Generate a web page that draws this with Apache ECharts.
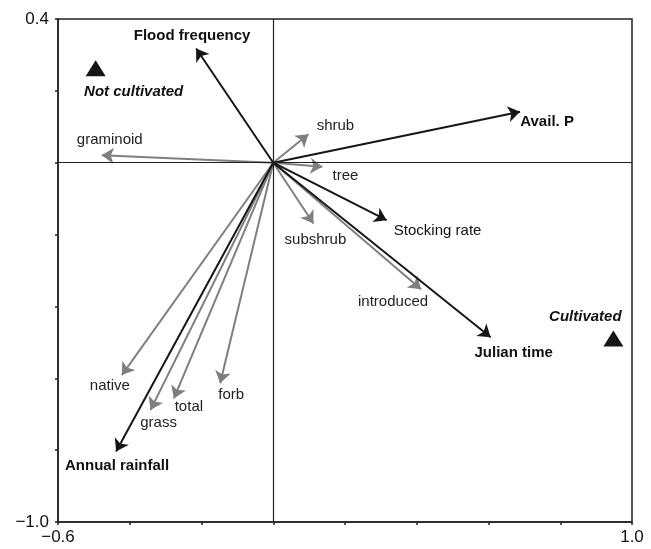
<!DOCTYPE html>
<html>
<head>
<meta charset="utf-8">
<script src="https://cdn.jsdelivr.net/npm/echarts@6/dist/echarts.min.js"></script>
<style>
html,body{margin:0;padding:0;background:#fff;}
#chart{width:651px;height:549px;}
</style>
</head>
<body>
<div id="chart"></div>
<script>
// ---- data ----
const envNames = ['Flood frequency', 'Avail. P', 'Stocking rate', 'Julian time', 'Annual rainfall'];
const envX = [-0.215, 0.688, 0.316, 0.606, -0.438];
const envY = [0.318, 0.142, -0.160, -0.486, -0.804];

const groupNames = ['graminoid', 'shrub', 'tree', 'subshrub', 'introduced', 'native', 'grass', 'total', 'forb'];
const groupX = [-0.478, 0.098, 0.137, 0.112, 0.412, -0.422, -0.342, -0.277, -0.148];
const groupY = [0.021, 0.079, -0.011, -0.169, -0.352, -0.591, -0.688, -0.656, -0.614];

const siteNames = ['Not cultivated', 'Cultivated'];
const siteX = [-0.495, 0.948];
const siteY = [0.263, -0.489];

const xTicks = [-0.6, 1.0];
const yTicks = [-1.0, 0.4];

// ---- label placement / style (pixel offsets from arrow tip / marker) ----
const labelShift = {
  'Flood frequency': [-4, -13], 'Avail. P': [27, 10], 'Stocking rate': [51, 11],
  'Julian time': [23, 16], 'Annual rainfall': [1, 14],
  'graminoid': [8, -15], 'shrub': [27, -8], 'tree': [23, 9], 'subshrub': [2, 16],
  'introduced': [-28, 13], 'native': [-12, 11], 'grass': [8, 13], 'total': [15, 8], 'forb': [11, 12],
  'Not cultivated': [38, 24], 'Cultivated': [-28, -22]
};
const regularLabels = ['Stocking rate'];

const FONT = '"Liberation Sans", Arial, Helvetica, sans-serif';
const fmtTick = v => {
  const s = Math.abs(v).toFixed(1);
  return (v < 0 ? '\u2212' : '') + s;
};

function arrows(names, xs, ys) {
  return names.map((n, i) => ({ name: n, coords: [[0, 0], [xs[i], ys[i]]] }));
}
function labelPts(names, xs, ys) {
  return names.map((n, i) => {
    const lab = { offset: labelShift[n] };
    if (regularLabels.includes(n)) lab.fontWeight = 'normal';
    return { name: n, value: [xs[i], ys[i]], label: lab };
  });
}

const chart = echarts.init(document.getElementById('chart'), null, { renderer: 'canvas' });
chart.setOption({
  animation: false,
  backgroundColor: '#fff',
  grid: { left: 58, top: 19, right: 19, bottom: 27, show: true, borderColor: '#222', borderWidth: 1.5 },
  xAxis: {
    type: 'value', min: -0.6, max: 1.0, interval: 0.2,
    axisLine: { show: true, onZero: false, lineStyle: { color: '#222', width: 1.5 } },
    axisTick: { show: true, length: 3, inside: false, lineStyle: { color: '#222', width: 1.5 } },
    splitLine: { show: false },
    axisLabel: {
      margin: 7, color: '#111', fontFamily: FONT, fontSize: 17,
      formatter: v => xTicks.some(t => Math.abs(t - v) < 1e-9) ? fmtTick(v) : ''
    }
  },
  yAxis: {
    type: 'value', min: -1.0, max: 0.4, interval: 0.2,
    axisLine: { show: true, onZero: false, lineStyle: { color: '#222', width: 1.5 } },
    axisTick: { show: true, length: 3, inside: false, lineStyle: { color: '#222', width: 1.5 } },
    splitLine: { show: false },
    axisLabel: {
      margin: 9, color: '#111', fontFamily: FONT, fontSize: 17,
      formatter: v => yTicks.some(t => Math.abs(t - v) < 1e-9) ? fmtTick(v) : ''
    }
  },
  series: [
    {
      type: 'scatter', data: [], silent: true,
      markLine: {
        silent: true, symbol: 'none', label: { show: false },
        lineStyle: { color: '#222', width: 1.2, type: 'solid' },
        data: [{ xAxis: 0 }, { yAxis: 0 }]
      }
    },
    {
      type: 'lines', coordinateSystem: 'cartesian2d', silent: true,
      symbol: ['none', 'arrow'], symbolSize: 12,
      lineStyle: { color: '#7f7f7f', width: 2, opacity: 1 },
      data: arrows(groupNames, groupX, groupY)
    },
    {
      type: 'lines', coordinateSystem: 'cartesian2d', silent: true,
      symbol: ['none', 'arrow'], symbolSize: 12,
      lineStyle: { color: '#161616', width: 2, opacity: 1 },
      data: arrows(envNames, envX, envY)
    },
    {
      type: 'scatter', symbolSize: 0, silent: true,
      itemStyle: { opacity: 1 },
      label: { show: true, position: 'inside', formatter: '{b}', color: '#222', fontFamily: FONT, fontSize: 15 },
      data: labelPts(groupNames, groupX, groupY)
    },
    {
      type: 'scatter', symbolSize: 0, silent: true,
      itemStyle: { opacity: 1 },
      label: { show: true, position: 'inside', formatter: '{b}', color: '#111', fontFamily: FONT, fontSize: 15, fontWeight: 'bold' },
      data: labelPts(envNames, envX, envY)
    },
    {
      type: 'scatter', symbol: 'triangle', symbolSize: [20, 16], silent: true,
      itemStyle: { color: '#161616', opacity: 1 },
      label: { show: true, position: 'inside', formatter: '{b}', color: '#111', fontFamily: FONT, fontSize: 15, fontWeight: 'bold', fontStyle: 'italic' },
      data: labelPts(siteNames, siteX, siteY)
    }
  ]
});
</script>
</body>
</html>
